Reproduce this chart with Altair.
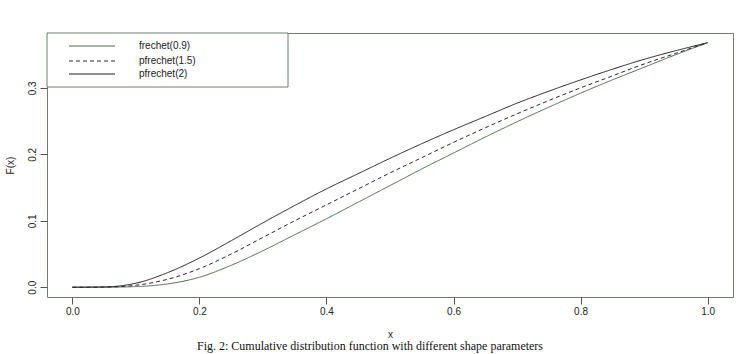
import altair as alt
import pandas as pd

# x grid and the three curves
x_vals = [0.00, 0.05, 0.10, 0.15, 0.20, 0.25, 0.30, 0.35, 0.40, 0.45, 0.50,
          0.55, 0.60, 0.65, 0.70, 0.75, 0.80, 0.85, 0.90, 0.95, 1.00]
f_09 = [0.000, 0.000, 0.001, 0.005, 0.015, 0.033, 0.055, 0.079, 0.103, 0.128, 0.153,
        0.178, 0.202, 0.226, 0.249, 0.271, 0.292, 0.312, 0.331, 0.350, 0.368]
f_15 = [0.000, 0.0002, 0.003, 0.012, 0.028, 0.050, 0.075, 0.100, 0.124, 0.148, 0.172,
        0.195, 0.218, 0.240, 0.261, 0.281, 0.300, 0.318, 0.336, 0.352, 0.368]
f_20 = [0.000, 0.0005, 0.006, 0.022, 0.044, 0.070, 0.097, 0.123, 0.148, 0.171, 0.194,
        0.216, 0.237, 0.257, 0.277, 0.295, 0.312, 0.328, 0.343, 0.356, 0.368]

names = ["frechet(0.9)", "pfrechet(1.5)", "pfrechet(2)"]
colors = ["#4f664f", "#2e2233", "#1e1e1e"]
dashes = [[1, 0], [4, 3], [1, 0]]

rows = []
for name, ys in zip(names, [f_09, f_15, f_20]):
    for xv, yv in zip(x_vals, ys):
        rows.append({"x": xv, "y": yv, "series": name})
df = pd.DataFrame(rows)

W, H = 686, 264
frame_col = "#6b7f6b"

xscale = alt.Scale(domain=[-0.04, 1.04], nice=False, zero=False)
yscale = alt.Scale(domain=[-0.0147, 0.3826], nice=False, zero=False)

layers = []
for i, name in enumerate(names):
    sub = df[df.series == name]
    enc_x = alt.X("x:Q", scale=xscale,
                  axis=alt.Axis(values=[0, 0.2, 0.4, 0.6, 0.8, 1.0], format=".1f",
                                title="x", grid=False, domain=False,
                                tickSize=7, tickColor="#555", labelPadding=2,
                                labelFont="Liberation Sans", labelFontSize=10,
                                labelColor="#222", titleFont="Liberation Sans",
                                titleFontSize=10, titleFontWeight="normal",
                                titleColor="#222", titlePadding=13)) if i == 0 else alt.X("x:Q", scale=xscale)
    enc_y = alt.Y("y:Q", scale=yscale,
                  axis=alt.Axis(values=[0, 0.1, 0.2, 0.3], format=".1f",
                                title="F(x)", grid=False, domain=False,
                                tickSize=7, tickColor="#555", labelPadding=3,
                                labelAngle=270, labelAlign="center",
                                labelBaseline="bottom",
                                labelFont="Liberation Sans", labelFontSize=10,
                                labelColor="#222", titleFont="Liberation Sans",
                                titleFontSize=10, titleFontWeight="normal",
                                titleColor="#222", titlePadding=12)) if i == 0 else alt.Y("y:Q", scale=yscale)
    layers.append(
        alt.Chart(sub).mark_line(color=colors[i], strokeWidth=1,
                                 strokeDash=dashes[i], interpolate="monotone",
                                 clip=True)
        .encode(x=enc_x, y=enc_y)
    )

# legend box
box = alt.Chart(pd.DataFrame({"a": [0]})).mark_rect(
    fill="white", stroke=frame_col, strokeWidth=1
).encode(x=alt.value(0), x2=alt.value(241), y=alt.value(0), y2=alt.value(54))
layers.append(box)
row_y = [13, 28, 41]
for i, name in enumerate(names):
    one = pd.DataFrame({"series": [name]})
    layers.append(
        alt.Chart(one).mark_rule(color=colors[i], strokeWidth=1, strokeDash=dashes[i])
        .encode(x=alt.value(22), x2=alt.value(68), y=alt.value(row_y[i]))
    )
    layers.append(
        alt.Chart(one).mark_text(align="left", baseline="middle",
                                 font="Liberation Sans", fontSize=10, color="#222")
        .encode(x=alt.value(92), y=alt.value(row_y[i]), text="series:N")
    )

caption = alt.Chart(pd.DataFrame({"t": ["Fig. 2: Cumulative distribution function with different shape parameters"]})).mark_text(
    align="center", baseline="middle", font="Liberation Serif", fontSize=12, color="#111"
).encode(x=alt.value(323), y=alt.value(313), text="t:N")
layers.append(caption)

chart = alt.layer(*layers).properties(
    width=W, height=H,
    padding={"left": 47, "top": 33, "right": 7, "bottom": 57},
    autosize="none",
    background="white",
).configure_view(stroke=frame_col, strokeWidth=1)

chart.save("out.html", embed_options={"renderer": "svg", "actions": False})
